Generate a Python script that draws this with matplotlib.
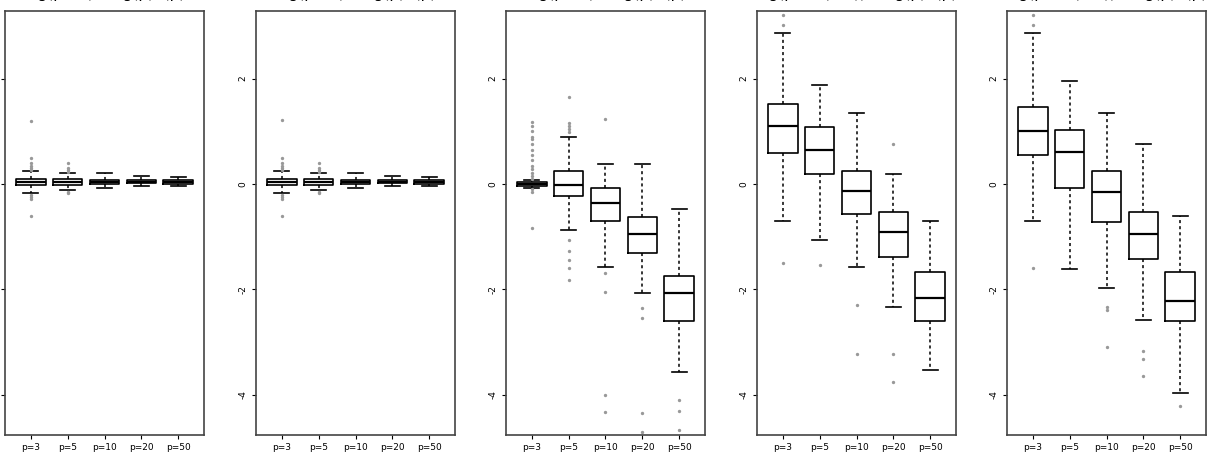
import matplotlib
matplotlib.use("Agg")
import matplotlib.pyplot as plt

labels = ["p=3", "p=5", "p=10", "p=20", "p=50"]
titles = ["log(phat) - log(p)  (p)", "log(phat) - log(p)  (p)", "log(phat) - log(p)  (p)",
          "log(phat (n/2)) - log(p)  (p)", "log(phat (n/2)) - log(p)  (p)"]

# box stats per panel: whislo, q1, med, q3, whishi
p1_stats = [(-0.17, -0.02, 0.03, 0.09, 0.25), (-0.12, -0.02, 0.03, 0.09, 0.20),
            (-0.08, 0.00, 0.04, 0.08, 0.21), (-0.03, 0.01, 0.04, 0.07, 0.16),
            (-0.04, 0.00, 0.04, 0.07, 0.14)]
p1_fliers = [[0.27, 0.31, 0.35, 0.40, 0.50, 1.20, -0.20, -0.24, -0.28, -0.60],
             [0.22, 0.26, 0.30, 0.39, -0.15, -0.18],
             [], [], []]

p2_stats = [(-0.17, -0.02, 0.03, 0.09, 0.25), (-0.12, -0.02, 0.03, 0.09, 0.20),
            (-0.08, 0.00, 0.04, 0.08, 0.21), (-0.03, 0.01, 0.04, 0.07, 0.16),
            (-0.04, 0.00, 0.04, 0.07, 0.14)]
p2_fliers = [[0.27, 0.31, 0.35, 0.40, 0.50, 1.22, -0.20, -0.24, -0.28, -0.60],
             [0.22, 0.26, 0.30, 0.39, -0.15, -0.18],
             [], [], []]

p3_stats = [(-0.08, -0.03, 0.00, 0.03, 0.08), (-0.87, -0.22, -0.02, 0.25, 0.90),
            (-1.58, -0.70, -0.37, -0.07, 0.38), (-2.07, -1.30, -0.95, -0.62, 0.37),
            (-3.56, -2.59, -2.07, -1.74, -0.48)]
p3_fliers = [[1.18, 1.10, 1.00, 0.90, 0.85, 0.75, 0.65, 0.55, 0.45, 0.35, 0.28, 0.20,
              0.15, 0.10, -0.10, -0.15, -0.83],
             [0.98, 1.05, 1.10, 1.15, 1.65, -1.06, -1.28, -1.44, -1.60, -1.82],
             [1.23, -1.69, -2.05, -4.00, -4.32],
             [-2.36, -2.55, -4.35, -4.70],
             [-4.10, -4.30, -4.66]]

p4_stats = [(-0.70, 0.59, 1.09, 1.51, 2.86), (-1.06, 0.19, 0.64, 1.08, 1.88),
            (-1.58, -0.57, -0.14, 0.25, 1.34), (-2.33, -1.38, -0.92, -0.54, 0.18),
            (-3.53, -2.60, -2.17, -1.66, -0.70)]
p4_fliers = [[3.01, 3.20, -1.49],
             [-1.54],
             [-2.29, -3.22],
             [0.75, -3.22, -3.76],
             []]

p5_stats = [(-0.71, 0.54, 1.00, 1.46, 2.86), (-1.62, -0.07, 0.61, 1.02, 1.95),
            (-1.97, -0.72, -0.16, 0.24, 1.35), (-2.58, -1.42, -0.95, -0.53, 0.75),
            (-3.97, -2.60, -2.22, -1.66, -0.60)]
p5_fliers = [[3.01, 3.20, -1.59],
             [],
             [-2.34, -2.39, -3.10],
             [-3.17, -3.32, -3.65],
             [-4.21]]

panels = [(p1_stats, p1_fliers), (p2_stats, p2_fliers), (p3_stats, p3_fliers),
          (p4_stats, p4_fliers), (p5_stats, p5_fliers)]

fig = plt.figure(figsize=(12.1, 4.54), dpi=100)
W, H = 1210, 454
lefts = [5, 256, 506, 757, 1007]

for i, (stats, fliers) in enumerate(panels):
    ax = fig.add_axes([lefts[i] / W, 1 - 435 / H, 199 / W, 424 / H])
    bxp_stats = []
    for (lo, q1, med, q3, hi), fl in zip(stats, fliers):
        bxp_stats.append(dict(whislo=lo, q1=q1, med=med, q3=q3, whishi=hi, fliers=fl))
    ax.bxp(bxp_stats, positions=range(1, 6), widths=0.8, capwidths=0.4,
           boxprops=dict(color='black', lw=1.2),
           medianprops=dict(color='black', lw=1.6),
           whiskerprops=dict(color='black', lw=1.1, linestyle=(0, (2, 2))),
           capprops=dict(color='black', lw=1.2),
           flierprops=dict(marker='o', markersize=1.4, markerfacecolor='#999999',
                           markeredgecolor='#999999'))
    ax.set_xlim(0.3, 5.7)
    ax.set_ylim(-4.76, 3.28)
    ax.set_xticks(range(1, 6))
    ax.set_xticklabels(labels, fontsize=6.5)
    ax.set_yticks([-4, -2, 0, 2])
    if i == 0:
        # labels of the first panel fall outside the picture in the original
        ax.set_yticklabels([])
    else:
        ax.set_yticklabels(['-4', '-2', '0', '2'], fontsize=6.5, rotation=90, va='center')
    ax.tick_params(length=3, width=0.8, pad=3)
    for s in ax.spines.values():
        s.set_color('#444444')
        s.set_linewidth(1.2)
    # titles sit above the top edge; only their descenders show
    fig.text((lefts[i] + 99.5) / W, 1.0 + 2 / H, titles[i], ha='center', va='baseline',
             fontsize=11)

fig.savefig("out.png", dpi=100)
